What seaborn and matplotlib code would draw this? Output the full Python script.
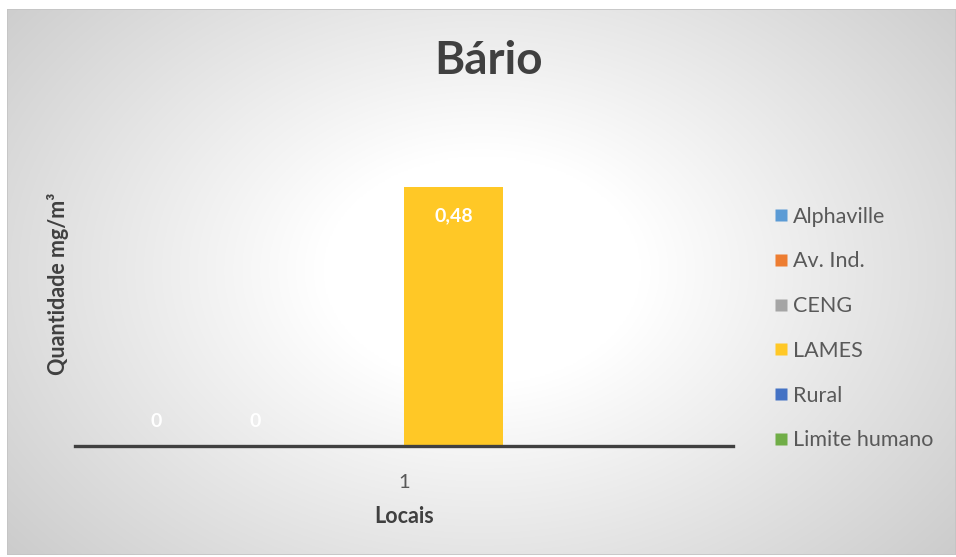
import numpy as np
import pandas as pd
import matplotlib
matplotlib.use("Agg")
import matplotlib.pyplot as plt
from matplotlib.patches import Rectangle
from matplotlib.lines import Line2D
import seaborn as sns

# Data
locais = ["1"]
series = ["Alphaville", "Av. Ind.", "CENG", "LAMES", "Rural", "Limite humano"]
alphaville = [0.0]
av_ind = [0.0]
ceng = [np.nan]
lames = [0.48]
rural = [np.nan]
limite_humano = [np.nan]
colors = ["#5B9BD5", "#ED7D31", "#A5A5A5", "#FFC826", "#4472C4", "#70AD47"]

values = [alphaville, av_ind, ceng, lames, rural, limite_humano]
rows = []
for name, vals in zip(series, values):
    for loc, v in zip(locais, vals):
        rows.append({"Locais": loc, "Serie": name, "Valor": v})
df = pd.DataFrame(rows)

sns.set_theme(style="white")
plt.rcParams["font.family"] = ["Lato", "DejaVu Sans"]

W, H = 956, 557
fig = plt.figure(figsize=(W / 100, H / 100), dpi=100)
fig.patch.set_facecolor("white")

# radial gradient background of the chart area
bg = fig.add_axes([7 / W, 2 / H, (W - 7) / W, (H - 11) / H])
bg.set_axis_off()
ny, nx = 400, 700
yy, xx = np.mgrid[0:ny, 0:nx]
cx, cy = nx * 0.50, ny * 0.52
t = np.sqrt(((xx - cx) / (nx * 0.60)) ** 2 + ((yy - cy) / (ny * 0.75)) ** 2)
shade = np.clip((t - 0.28) / 0.80, 0, 1)
g = 1.0 - 0.20 * shade
bg.imshow(np.dstack([g, g, g]), aspect="auto", extent=[0, 1, 0, 1], origin="lower")
bg.add_patch(Rectangle((0, 0), 1, 1, transform=bg.transAxes, fill=False,
                       edgecolor="#c4c4c4", lw=1.2))
bg.set_xlim(0, 1)
bg.set_ylim(0, 1)

ax = fig.add_axes([75 / W, (H - 446) / H, 658 / W, 324 / H])
ax.patch.set_alpha(0)
sns.barplot(data=df, x="Locais", y="Valor", hue="Serie", hue_order=series,
            palette=colors, width=6 / 6.65, ax=ax, legend=False,
            saturation=1, edgecolor="none")
ax.set_ylim(0, 0.6)
ax.set_xlim(-0.5, 0.5)
for s in ["top", "right", "left"]:
    ax.spines[s].set_visible(False)
ax.spines["bottom"].set_color("#404040")
ax.spines["bottom"].set_linewidth(2.4)
ax.set_yticks([])
ax.tick_params(axis="x", length=0, pad=20, labelsize=14.5, labelcolor="#595959")
ax.set_ylabel("Quantidade mg/m³", fontsize=15.5, fontweight="bold", color="#404040")
ax.yaxis.set_label_coords(-0.026, 0.50)
ax.set_xlabel("Locais", fontsize=15.5, fontweight="bold", color="#404040")
ax.xaxis.set_label_coords(0.5, -0.219)
ax.xaxis.label.set_va("center")
ax.yaxis.label.set_va("center")

# data labels: inside the top of non-zero bars, above the baseline for zeros
for cont, vals in zip(ax.containers, values):
    for bar, v in zip(cont.patches, vals):
        if np.isnan(v):
            continue
        x = bar.get_x() + bar.get_width() / 2
        txt = f"{v:g}".replace(".", ",")
        dy = -21 if v > 0 else 17.5
        ax.annotate(txt, (x, v), xytext=(0, dy), textcoords="offset points",
                    ha="center", va="center", color="white", fontsize=14,
                    fontweight="bold")

fig.text(489 / W, 1 - 61 / H, "Bário", ha="center", va="center",
         fontsize=33, fontweight="bold", color="#404040")

handles = [Line2D([], [], marker="s", linestyle="none", markersize=9,
                  markerfacecolor=c, markeredgecolor="none") for c in colors]
fig.legend(handles, series, loc="upper left", bbox_to_anchor=(767 / W, 1 - 198 / H),
           frameon=False, fontsize=15.5, labelcolor="#595959", handlelength=0.5,
           handletextpad=0.3, labelspacing=1.15, borderaxespad=0)

fig.savefig("out.png", dpi=100, facecolor="white")
